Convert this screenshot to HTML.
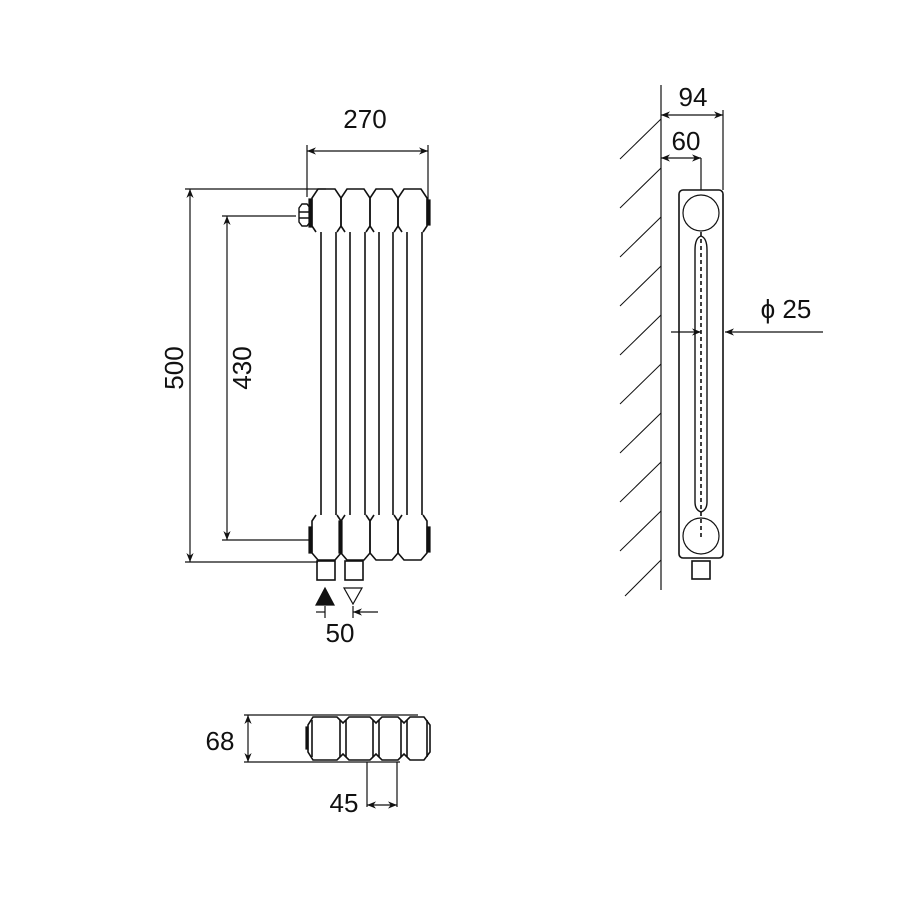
<!DOCTYPE html>
<html><head><meta charset="utf-8"><style>
html,body{margin:0;padding:0;background:#fff;}
svg{display:block;}
text{font-family:"Liberation Sans",sans-serif;fill:#111;}
</style></head><body>
<svg width="900" height="900" viewBox="0 0 900 900" xmlns="http://www.w3.org/2000/svg">
<defs>
<marker id="a" viewBox="0 0 10 10" refX="10" refY="5" markerWidth="9" markerHeight="9" orient="auto-start-reverse" markerUnits="userSpaceOnUse"><path d="M0,1 L10,5 L0,9 L3,5 Z" fill="#111"/></marker>
</defs>
<g stroke="#111" stroke-width="1.2" fill="none">
<g stroke-width="1.6">
<path d="M316,232 L312,226 L312,198 L318,189 L335,189 L341,198 L341,226 L337,232 M321,232 V515 M336,232 V515 M316,515 L312,521 L312,553 L318,560 L335,560 L341,553 L341,521 L337,515"/>
<path d="M345,232 L341,226 L341,198 L347,189 L364,189 L370,198 L370,226 L366,232 M350,232 V515 M365,232 V515 M345,515 L341,521 L341,553 L347,560 L364,560 L370,553 L370,521 L366,515"/>
<path d="M374,232 L370,226 L370,198 L376,189 L392,189 L398,198 L398,226 L394,232 M379,232 V515 M393,232 V515 M374,515 L370,521 L370,553 L376,560 L392,560 L398,553 L398,521 L394,515"/>
<path d="M402,232 L398,226 L398,198 L404,189 L421,189 L427,198 L427,226 L423,232 M407,232 V515 M422,232 V515 M402,515 L398,521 L398,553 L404,560 L421,560 L427,553 L427,521 L423,515"/>
</g>
<rect x="309" y="199" width="3" height="28" fill="#111"/>
<rect x="427" y="200" width="3" height="25" fill="#111"/>
<rect x="309" y="527" width="3" height="26" fill="#111"/>
<rect x="427" y="527" width="3" height="25" fill="#111"/>
<rect x="339" y="521" width="3" height="32" fill="#111"/>
<path d="M299,208 L302,204 L307,204 L310,208 L310,222 L307,226 L302,226 L299,222 Z M299,212 H310 M299,218 H310" stroke-width="1.4"/>
<rect x="317" y="561" width="18" height="19" stroke-width="1.6"/>
<rect x="345" y="561" width="18" height="19" stroke-width="1.6"/>
<path d="M316,605 L325,588 L334,605 Z" fill="#111"/>
<path d="M344,588 L362,588 L353,604 Z"/>
<path d="M316,612 H325" />
<path d="M325,606 V618 M353,606 V618"/>
<path d="M378,612 H353" marker-end="url(#a)"/>
<path d="M307,151 H428" marker-start="url(#a)" marker-end="url(#a)"/>
<path d="M307,145 V197 M428,145 V212"/>
<path d="M185,189 H326 M185,562 H318"/>
<path d="M190,189 V562" marker-start="url(#a)" marker-end="url(#a)"/>
<path d="M222,216 H296 M222,540 H312"/>
<path d="M227,216 V540" marker-start="url(#a)" marker-end="url(#a)"/>
<g stroke-width="1.6">
<path d="M313,717 L337,717 L343,723 L349,717 L370,717 L376,723 L382,717 L398,717 L404,723 L410,717 L424,717 L430,725 L430,752 L424,760 L410,760 L404,754 L398,760 L382,760 L376,754 L370,760 L349,760 L343,754 L337,760 L313,760 L308,752 L308,725 Z"/>
<path d="M312,720 V757 M340,720 V757 M346,720 V757 M373,720 V757 M379,720 V757 M401,720 V757 M407,720 V757 M427,720 V757"/>
</g>
<rect x="306" y="727" width="2" height="22" fill="#111"/>
<path d="M244,715 H418 M244,762 H400"/>
<path d="M248,715 V762" marker-start="url(#a)" marker-end="url(#a)"/>
<path d="M367,762 V807 M397,762 V807"/>
<path d="M367,805 H397" marker-start="url(#a)" marker-end="url(#a)"/>
<path d="M661,85 V590"/>
<g stroke-width="1">
<path d="M661,119 L620,159 M661,168 L620,208 M661,217 L620,257 M661,266 L620,306 M661,315 L620,355 M661,364 L620,404 M661,413 L620,453 M661,462 L620,502 M661,511 L620,551 M661,560 L625,596"/>
</g>
<rect x="679" y="190" width="44" height="368" rx="4" stroke-width="1.6"/>
<circle cx="701" cy="213" r="18"/>
<circle cx="701" cy="536" r="18"/>
<path d="M695,250 Q695,238 701,236 Q707,238 707,250 V502 Q707,510 701,512 Q695,510 695,502 Z" stroke-width="1.4"/>
<path d="M701,232 V540" stroke-dasharray="4,3" stroke-width="1.6"/>
<rect x="692" y="561" width="18" height="18" stroke-width="1.6"/>
<path d="M661,115 H723" marker-start="url(#a)" marker-end="url(#a)"/>
<path d="M723,110 V190"/>
<path d="M661,158 H701" marker-start="url(#a)" marker-end="url(#a)"/>
<path d="M701,158 V190"/>
<path d="M671,332 H701" marker-end="url(#a)"/>
<path d="M823,332 H725" marker-end="url(#a)"/>
</g>
<g font-size="26">
<text x="365" y="128" text-anchor="middle">270</text>
<text x="340" y="642" text-anchor="middle">50</text>
<text x="220" y="750" text-anchor="middle">68</text>
<text x="344" y="812" text-anchor="middle">45</text>
<text x="693" y="106" text-anchor="middle">94</text>
<text x="686" y="150" text-anchor="middle">60</text>
<text x="786" y="318" text-anchor="middle">ϕ 25</text>
<text transform="translate(183,368) rotate(-90)" text-anchor="middle">500</text>
<text transform="translate(251,368) rotate(-90)" text-anchor="middle">430</text>
</g>
</svg>
</body></html>
